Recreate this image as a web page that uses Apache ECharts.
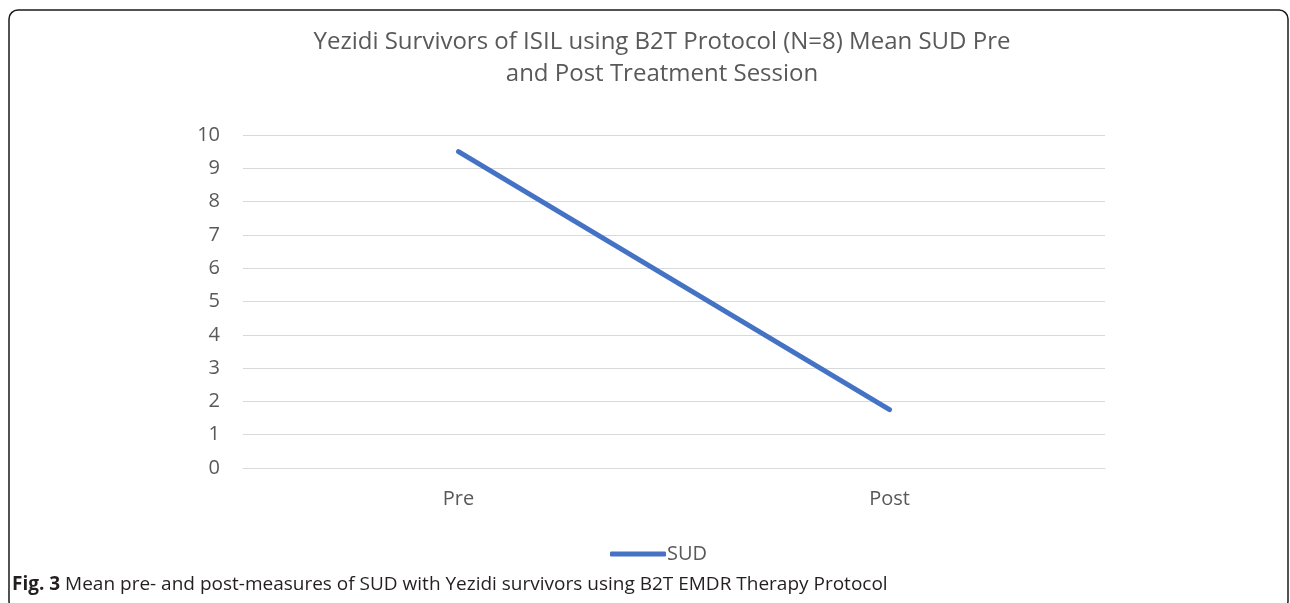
<!DOCTYPE html>
<html>
<head>
<meta charset="utf-8">
<script src="https://cdn.jsdelivr.net/npm/echarts@6/dist/echarts.min.js"></script>
<style>
  html, body { margin: 0; padding: 0; background: #fff; }
  #main { width: 1290px; height: 603px; }
</style>
</head>
<body>
<div id="main"></div>
<script>
// data
const categories = ['Pre', 'Post'];
const sudValues = [9.5, 1.75];
const seriesName = 'SUD';
const yTicks = { min: 0, max: 10, interval: 1 };

const chart = echarts.init(document.getElementById('main'));
const font = '"Open Sans", Lato, sans-serif';

chart.setOption({
    animation: false,
    title: {
        text: 'Yezidi Survivors of ISIL using B2T Protocol (N=8) Mean SUD Pre\nand Post Treatment Session',
        left: 657,
        textAlign: 'center',
        top: 21,
        textStyle: { fontFamily: font, fontSize: 24, fontWeight: 'normal', color: '#595959', lineHeight: 32 }
    },
    legend: {
        data: [seriesName],
        top: 539,
        left: 605,
        itemWidth: 56,
        itemHeight: 5,
        itemGap: 4,
        icon: 'roundRect',
        textStyle: { fontFamily: font, fontSize: 20, color: '#595959', padding: [0, 0, 0, -4] }
    },
    grid: { left: 243, right: 185, top: 135, bottom: 135 },
    xAxis: {
        type: 'category',
        data: categories,
        boundaryGap: true,
        axisLine: { lineStyle: { color: '#d9d9d9', width: 1 } },
        axisTick: { show: false },
        axisLabel: { fontFamily: font, fontSize: 20, color: '#595959', margin: 21 }
    },
    yAxis: {
        type: 'value',
        min: yTicks.min,
        max: yTicks.max,
        interval: yTicks.interval,
        axisLine: { show: false },
        axisTick: { show: false },
        splitLine: { lineStyle: { color: '#d9d9d9', width: 1 } },
        axisLabel: { fontFamily: font, fontSize: 20, color: '#595959', margin: 23 }
    },
    series: [{
        name: seriesName,
        type: 'line',
        data: sudValues,
        showSymbol: false,
        lineStyle: { color: '#4472C4', width: 5, cap: 'round' },
        itemStyle: { color: '#4472C4' }
    }],
    graphic: [
        {
            type: 'rect',
            shape: { x: 9, y: 10, width: 1279, height: 600, r: 9 },
            style: { fill: 'none', stroke: '#1a1a1a', lineWidth: 1.5 },
            silent: true
        },
        {
            type: 'text',
            left: 12,
            top: 575,
            style: {
                text: '{b|Fig. 3} Mean pre- and post-measures of SUD with Yezidi survivors using B2T EMDR Therapy Protocol',
                fontFamily: font,
                fontSize: 19,
                fill: '#231f20',
                rich: {
                    b: { fontFamily: font, fontSize: 19, fontWeight: 'bold', fill: '#231f20' }
                }
            }
        }
    ]
});
</script>
</body>
</html>
